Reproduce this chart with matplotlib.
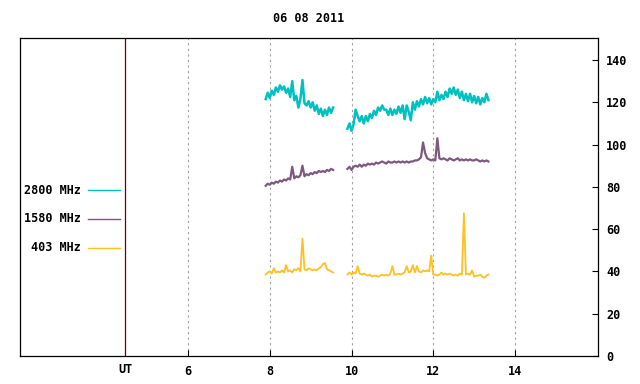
import numpy as np
import matplotlib
matplotlib.use("Agg")
import matplotlib.pyplot as plt

# time grids (UT hours), two observing segments
t1 = np.linspace(7.90, 9.55, 34)
t2 = np.linspace(9.90, 13.35, 70)

# 2800 MHz
f2800_a = [121.5, 124.5, 122, 125.5, 123.5, 127, 125, 128, 126, 127.5,
           124.5, 126.5, 122.5, 130, 121, 123, 117.5, 121.5, 130.5, 119.5,
           118.5, 120.5, 117.5, 120, 116, 118.5, 114.5, 117, 113.5, 116.5,
           114, 117.5, 115, 117.5]
f2800_b = [107.5, 110, 106.5, 109.5, 116.5, 113.5, 111, 113.5, 110, 113.5,
           111, 114.5, 112.5, 116, 114, 117.5, 116, 118.5, 116.5, 116.5,
           114, 117, 114, 116.5, 114.5, 118, 115, 118.5, 112, 118.5,
           115.5, 111.5, 120, 116.5, 120.5, 118, 121.5, 119, 122.5, 119.5,
           122, 119, 121.5, 120, 125, 121, 123.5, 121.5, 125, 122.5,
           126.5, 124, 127, 123.5, 126, 122, 125, 121, 124, 120.5,
           124, 120, 123, 119.5, 122.5, 119, 122, 120, 124, 121]

# 1580 MHz
f1580_a = [80.5, 81.5, 81, 82, 81.5, 82.5, 82, 83, 82.5, 83.5,
           83, 84, 83.5, 89.5, 84, 85, 84.5, 85.5, 90, 85,
           86, 85.5, 86.5, 86, 87, 86.5, 87.5, 87, 87.5, 87,
           88, 87.5, 88.5, 88]
f1580_b = [88.5, 89.5, 88, 89.5, 90, 89.5, 90.5, 89.5, 90.5, 90,
           91, 90.5, 91, 90.5, 91.5, 91, 91.5, 92, 91.5, 91,
           92, 91.5, 91.5, 92, 91.5, 92, 91.5, 92, 91.5, 92,
           91.5, 92, 92, 92.5, 92.5, 93, 94, 101, 96, 93.5,
           93, 92.5, 93, 92.5, 103, 93.5, 93, 93.5, 93, 92.5,
           93.5, 93, 92.5, 93, 93.5, 92.5, 93, 92.5, 93, 92.5,
           93, 92.5, 92.5, 93, 92.5, 92, 92.5, 92, 92.5, 92]

# 403 MHz
f403_a = [38.5, 39.5, 40, 39, 41.5, 39.5, 40, 39.5, 40.5, 39.5,
          43, 40, 40.5, 39.5, 41, 40.5, 41.5, 40, 55.5, 41,
          40.5, 41.5, 41, 40.5, 41, 40.5, 41.5, 42, 43.5, 44,
          41, 40.5, 40, 39.5]
f403_b = [38.5, 39.5, 38.5, 39.5, 39, 42.5, 39, 38.5, 39, 38.5,
          38, 38.5, 37.5, 38, 38, 37.5, 38, 38.5, 38, 38.5,
          38, 39, 42.5, 38.5, 38.5, 39, 38.5, 39, 39.5, 42.5,
          39.5, 40, 43, 39.5, 42.5, 40, 39.5, 40.5, 40, 40.5,
          40, 47.5, 38.5, 38.5, 38, 38.5, 39.5, 38.5, 39, 38.5,
          39, 38.5, 38, 38.5, 38, 39, 38.5, 67.5, 38.5, 39,
          38.5, 40.5, 37.5, 38, 38, 38.5, 37.5, 37, 38, 38.5]

labels = ["2800 MHz", "1580 MHz", "403 MHz"]
colors = ["#00c0c0", "#7d5a7d", "#ffc020"]
widths = [1.8, 1.6, 1.3]
xticks = [6, 8, 10, 12, 14]
yticks = [0, 20, 40, 60, 80, 100, 120, 140]
ut_pos = 4.46

font = dict(family="DejaVu Sans Mono", weight="bold", size=8.5)

fig = plt.figure(figsize=(6.4, 3.84), dpi=100)
ax = fig.add_axes([20/640, 28/384, 578/640, 318/384])

series = [(f2800_a, f2800_b), (f1580_a, f1580_b), (f403_a, f403_b)]
for (a, b), c, w in zip(series, colors, widths):
    ax.plot(t1, a, color=c, lw=w)
    ax.plot(t2, b, color=c, lw=w)

for x in xticks:
    ax.axvline(x, color="#a0a0a0", lw=0.8, ls=(0, (2, 3)), zorder=0)
ax.axvline(ut_pos, color="#700000", lw=0.9)

ax.set_xlim(1.89, 16.03)
ax.set_ylim(0, 150.4)
ax.set_xticks(xticks)
ax.set_xticklabels([str(x) for x in xticks], **font)
ax.set_yticks(yticks)
ax.set_yticklabels([str(y) for y in yticks], **font)
ax.yaxis.tick_right()
ax.tick_params(axis="x", direction="in", length=4, width=0.8, pad=6.5, top=False)
ax.tick_params(axis="y", direction="in", length=4, width=0.8, pad=6, left=False)
for s in ax.spines.values():
    s.set_linewidth(0.9)

ax.text(ut_pos, -0.022, "UT", transform=ax.get_xaxis_transform(),
        ha="center", va="top", **font)

# legend, drawn by hand at the left
ly = [0.522, 0.431, 0.340]
for lab, c, y in zip(labels, colors, ly):
    ax.text(0.106, y, lab, transform=ax.transAxes, ha="right", va="center", **font)
    ax.plot([0.118, 0.173], [y, y], transform=ax.transAxes, color=c, lw=1.0)

fig.text(309/640, 1 - 18/384, "06 08 2011", ha="center", va="center", **font)

fig.savefig("out.png", dpi=100)
